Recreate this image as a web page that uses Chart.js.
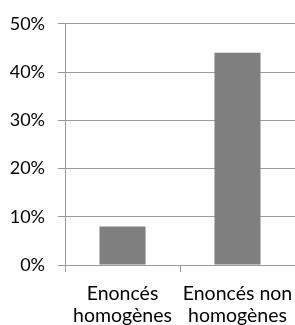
<!DOCTYPE html>
<html>
<head>
<meta charset="utf-8">
<script src="https://cdn.jsdelivr.net/npm/chart.js@4"></script>
<style>
  html, body { margin: 0; padding: 0; background: #fff; }
</style>
</head>
<body>
<canvas id="chart" width="295" height="325"></canvas>
<script>
// data
const categories = [["Enoncés", "homogènes"], ["Enoncés non", "homogènes"]];
const values = [8, 44];
const yTicks = [0, 10, 20, 30, 40, 50];

const yFont = { family: "Lato", size: 18 };
const xFont = { family: "Lato", size: 19.5, lineHeight: 1.13 };
const lineColor = "#9a9a9a";

new Chart(document.getElementById("chart"), {
  type: "bar",
  data: {
    labels: categories,
    datasets: [
      {
        data: values,
        backgroundColor: "#7f7f7f",
        categoryPercentage: 1,
        barPercentage: 0.4,
      },
    ],
  },
  options: {
    responsive: false,
    animation: false,
    layout: { padding: { top: 19, right: 0, left: 0, bottom: 0 } },
    plugins: { legend: { display: false }, tooltip: { enabled: false } },
    scales: {
      x: {
        grid: { offset: true, drawOnChartArea: false, color: lineColor, tickLength: 7 },
        border: { color: lineColor },
        ticks: { color: "#000", font: xFont, padding: 11, maxRotation: 0 },
        afterFit: (scale) => {
          scale.height = 60;
          // labels fit inside their own category, no extra side room
          scale.paddingLeft = 0;
          scale.paddingRight = 0;
        },
      },
      y: {
        min: yTicks[0],
        max: yTicks[yTicks.length - 1],
        afterBuildTicks: (scale) => { scale.ticks = yTicks.map((v) => ({ value: v })); },
        grid: { color: lineColor, tickLength: 7 },
        border: { color: lineColor },
        ticks: { color: "#000", font: yFont, padding: 13, callback: (v) => v + "%" },
        afterFit: (scale) => { scale.width = 65; },
      },
    },
  },
});
</script>
</body>
</html>
